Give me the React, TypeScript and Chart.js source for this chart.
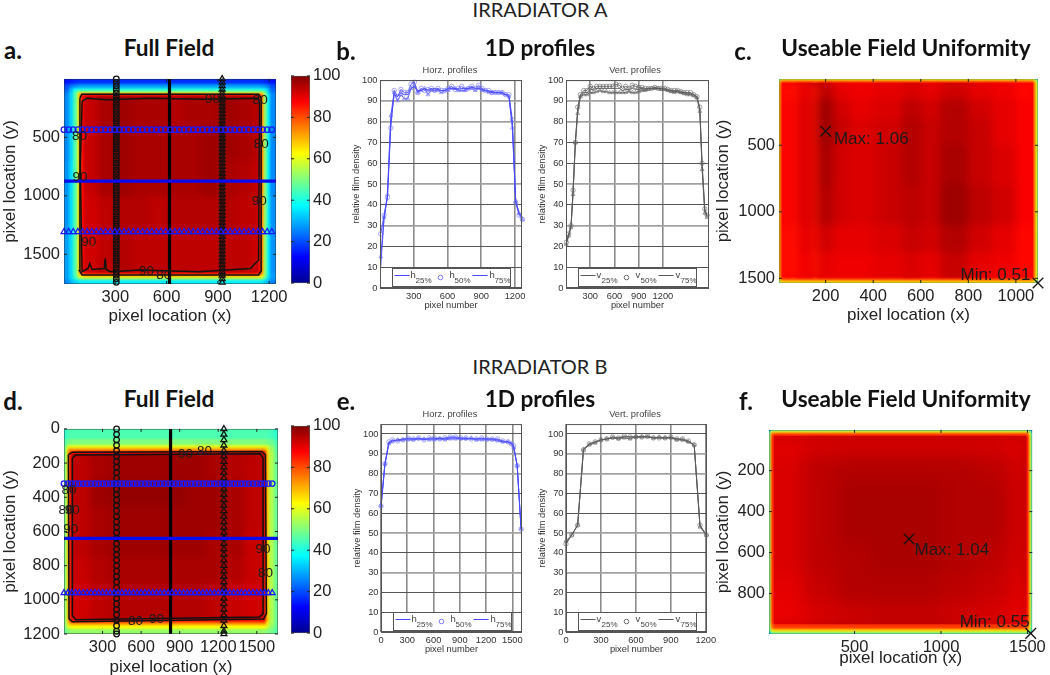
import React, { useEffect, useRef } from "react";
import { Chart, registerables } from "chart.js";
Chart.register(...registerables);

const SANS = '"Liberation Sans", Arial, sans-serif';
const CAL = 'Lato, "Open Sans", sans-serif';

/* ---------- panel a: full field, irradiator A ---------- */
const aXEdges = [0,30,55,75,88,100,115,200,300,400,500,600,700,800,900,1000,1100,1140,1155,1168,1185,1205,1240];
const aYEdges = [0,40,80,105,120,133,150,400,700,1000,1300,1660,1680,1700,1720,1754];
const aField = [
  [14,15,16,17,17,17,17,17,17,17,17,17,17,17,17,17,17,17,17,16,15,14],
  [20,24,26,27,28,28,28,28,28,28,28,28,28,28,28,28,28,28,27,26,24,20],
  [22,30,38,40,40,40,40,40,40,40,40,40,40,40,40,40,40,40,40,38,30,22],
  [24,32,44,54,55,55,55,55,55,55,55,55,55,55,55,55,55,55,54,46,33,24],
  [25,33,45,60,68,68,68,68,68,68,68,68,68,68,68,68,68,68,62,48,35,25],
  [26,33,45,60,75,84,88,88,88,88,88,88,88,88,88,88,88,84,67,50,36,26],
  [26,33,45,60,75,88,93,96,97,96,96,95,96,96,97,96,94,85,68,50,36,26],
  [26,33,45,60,75,88,93,96,97,96,96,96,96,97,97,96,94,85,68,50,36,26],
  [27,34,45,60,75,88,93,96,97,96,96,96,96,97,96,95,93,85,68,50,36,26],
  [27,34,45,60,75,88,92,94,95,95,94,95,95,95,95,94,93,85,68,50,36,27],
  [28,34,45,60,75,87,92,94,95,94,94,94,94,94,94,94,92,85,68,50,36,27],
  [28,34,45,60,72,80,85,85,85,85,85,85,85,85,85,85,85,80,66,50,36,28],
  [28,34,44,54,60,64,66,66,66,66,66,66,66,66,66,66,66,64,60,48,35,28],
  [28,33,40,46,48,50,50,50,50,50,50,50,50,50,50,50,50,50,46,42,33,27],
  [26,30,33,35,36,36,36,36,36,36,36,36,36,36,36,36,36,36,35,32,30,25],
];
const aContour80 = [[93,165],[104,132],[1138,132],[1153,165],[1153,1640],[1138,1677],[106,1677],[90,1640],[93,165]];
const aContour90 = [[106,193],[135,165],[251,179],[501,165],[829,174],[1138,165],[1143,207],[1138,1551],[1118,1579],[1089,1621],[790,1649],[598,1641],[443,1635],[270,1649],[247,1630],[241,1537],[235,1621],[164,1630],[150,1579],[141,1621],[106,1649],[102,1355],[96,739],[106,193]];
const aLabels: [number, number, string][] = [[868,171,"90"],[1147,179,"80"],[91,487,"80"],[1153,557,"80"],[93,838,"90"],[1142,1047,"90"],[145,1397,"90"],[482,1641,"90"],[584,1683,"80"]];
const aMarkX = [0,27,54,81,108,135,162,189,216,243,270,297,324,351,378,405,432,459,486,513,540,567,594,621,648,675,702,729,756,783,810,837,864,891,918,945,972,999,1026,1053,1080,1107,1134,1161,1188,1215];
const aMarkY = [0,30,60,90,120,150,180,210,240,270,300,330,360,390,420,450,480,510,540,570,600,630,660,690,720,750,780,810,840,870,900,930,960,990,1020,1050,1080,1110,1140,1170,1200,1230,1260,1290,1320,1350,1380,1410,1440,1470,1500,1530,1560,1590,1620,1650,1680,1710,1740];

/* ---------- panel d: full field, irradiator B ---------- */
const dXEdges = [0,15,30,45,60,200,350,500,650,800,950,1100,1250,1400,1560,1575,1595,1630,1665];
const dYEdges = [0,60,95,112,128,145,300,450,600,750,900,1115,1130,1148,1170,1200];
const dField = [
  [42,44,45,45,45,45,45,45,45,45,45,45,45,45,45,45,44,42],
  [45,48,49,50,50,50,50,50,50,50,50,50,50,50,50,49,48,45],
  [47,55,60,60,60,60,60,60,60,60,60,60,60,60,60,58,52,46],
  [48,60,72,72,72,72,72,72,72,72,72,72,72,72,72,65,54,47],
  [48,60,78,84,88,88,88,88,88,88,88,88,88,88,84,68,55,47],
  [48,60,80,90,94,96,97,97,97,97,97,96,95,94,88,68,55,48],
  [48,60,80,90,94,97,98,98,98,98,97,97,96,94,88,68,55,48],
  [48,60,80,90,94,96,97,97,97,97,97,97,96,94,88,68,55,48],
  [48,60,80,90,94,96,97,97,97,97,97,96,96,93,88,68,55,48],
  [48,60,80,90,93,95,96,96,96,96,96,96,95,93,88,68,55,48],
  [49,60,80,90,92,94,95,95,95,95,95,94,93,92,88,68,55,48],
  [49,60,78,84,88,88,88,88,88,88,88,88,88,88,84,68,55,48],
  [49,60,70,72,74,74,74,74,74,74,74,74,74,74,72,65,54,48],
  [48,56,60,61,62,62,62,62,62,62,62,62,62,62,61,58,52,47],
  [47,50,51,52,52,52,52,52,52,52,52,52,52,52,52,50,49,46],
];
const dContour80 = [[34,151],[65,136],[1541,132],[1567,151],[1575,1081],[1554,1112],[65,1129],[39,1110],[34,151]];
const dContour90 = [[65,171],[91,153],[1528,146],[1549,171],[1549,1081],[1523,1100],[91,1116],[65,1091],[65,171]];
const dLabels: [number, number, string][] = [[945,146,"90"],[1093,132,"80"],[39,357,"80"],[15,477,"80"],[65,477,"90"],[52,589,"90"],[1549,707,"90"],[1567,847,"80"],[557,1123,"80"],[720,1116,"90"]];
const dMarkX = [0,30,60,90,120,150,180,210,240,270,300,330,360,390,420,450,480,510,540,570,600,630,660,690,720,750,780,810,840,870,900,930,960,990,1020,1050,1080,1110,1140,1170,1200,1230,1260,1290,1320,1350,1380,1410,1440,1470,1500,1530,1560,1590,1620];
const dMarkY = [0,32,64,96,128,160,192,224,256,288,320,352,384,416,448,480,512,544,576,608,640,672,704,736,768,800,832,864,896,928,960,992,1024,1056,1088,1120,1152,1184,1200];

/* ---------- panels c, f: useable field uniformity ---------- */
const cXEdges = [0,5,10,16,60,75,100,150,165,180,230,300,400,450,520,600,680,800,900,1000,1072,1080,1087,1093];
const cYEdges = [0,6,15,30,150,300,500,800,1100,1300,1495,1515,1527,1535];
const cField = [
  [30,40,55,58,58,58,58,58,58,58,58,58,58,58,58,58,58,58,58,58,55,45,32],
  [40,60,68,70,70,70,70,70,70,70,70,70,70,70,70,70,70,70,70,70,68,58,40],
  [50,65,80,82,82,83,83,82,83,84,83,83,83,83,83,83,83,83,83,82,78,62,45],
  [55,68,82,87,85,89,90,84,93,94,90,89,90,90,91,90,92,90,89,87,80,65,50],
  [55,68,82,88,86,90,91,85,96,97,92,90,91,91,94,92,95,92,90,88,80,65,50],
  [55,68,82,88,86,90,91,85,96,97,93,91,92,92,95,93,95,93,90,88,80,65,50],
  [55,68,82,88,86,90,91,85,95,96,92,91,92,93,95,93,96,93,91,88,80,65,50],
  [55,68,82,88,86,90,91,85,95,95,92,91,92,93,94,93,97,94,92,88,80,65,50],
  [55,68,82,87,85,89,90,85,92,92,90,90,91,91,93,92,95,92,90,87,80,65,50],
  [55,68,82,87,85,88,89,84,90,90,89,89,90,90,91,90,93,90,89,87,80,65,50],
  [52,66,78,82,82,83,83,82,83,83,83,83,83,83,84,83,84,83,83,82,78,63,48],
  [45,60,68,70,70,70,70,70,70,70,70,70,70,70,70,70,70,70,70,70,68,58,42],
  [32,45,58,60,60,60,60,60,60,60,60,60,60,60,60,60,60,60,60,60,55,45,30],
];
const fXEdges = [0,8,18,32,200,400,600,800,1000,1200,1400,1495,1508,1520,1528];
const fYEdges = [0,6,15,30,120,250,400,550,700,850,950,975,987,998];
const fField = [
  [20,30,42,45,45,45,45,45,45,45,45,42,30,18],
  [35,55,65,66,66,66,66,66,66,66,66,65,55,32],
  [45,65,80,82,82,82,82,82,82,82,82,80,62,38],
  [45,65,83,90,91,91,91,91,91,91,90,85,65,40],
  [45,65,83,91,94,95,95,95,95,94,91,85,65,40],
  [45,65,83,91,94,96,96,96,95,95,91,85,65,40],
  [45,65,83,91,94,96,96,96,95,95,91,85,65,40],
  [45,65,83,91,94,95,96,96,95,94,91,85,65,40],
  [45,65,83,90,93,95,95,95,94,93,90,85,65,40],
  [45,65,83,89,91,92,93,93,92,91,89,85,65,40],
  [45,62,78,82,82,82,82,82,82,82,82,78,60,38],
  [38,55,65,66,66,66,66,66,66,66,66,65,55,34],
  [25,38,45,48,48,48,48,48,48,48,48,45,38,22],
];

/* ---------- panel b: profiles, irradiator A ---------- */
const bHx = [6,36,66,96,126,156,186,216,246,276,306,336,366,396,426,456,486,516,546,576,606,636,666,696,726,756,786,816,846,876,906,936,966,996,1026,1056,1086,1116,1146,1176,1206,1236,1266];
const bH25 = [10,33,44,80,93,92,94,93,93,96,97,95,95,96,95,95.5,96,95.5,95,95,96,96,96,95.5,96,96,96,96.5,96,96,95.5,95,94.5,94.5,94,94,93.5,93,92,79,42,36,34];
const bH50 = [26,35,43.5,77,95,92,95.5,94,94,98,99,94,96,95,95.5,96,95,96,95,95,96,97,95.5,96,97,95.5,96,97,96,97.5,96,95,95,94,94,94,94,93,93,81,41,35,33];
const bH75 = [15,34,45,83,94,90,93,91,91,96,97,94,95,96,93,95,95,95,94,95,95,96,96,95,95,95,96,96,95,96,95,95,94,94,94,94,94,93,92,77,42,36,33];
const bVx = [4,33,62,87,116,145,178,220,260,300,340,380,420,460,500,540,580,620,660,700,740,780,820,860,900,940,980,1020,1060,1100,1140,1180,1220,1260,1300,1340,1380,1420,1460,1500,1540,1580,1620,1656,1685,1718,1747];
const bV25 = [21.5,25.5,29.5,46,70,85,92.5,94,94,95.5,95.5,96,96,96,96,96,96,96,96,95,95.5,95.5,96,95.5,95.5,96,95.5,96,96,96,96,95.8,95.5,95,95,94.5,94.5,94,94,93.5,93.5,93,92,86,58,37,34.5];
const bV50 = [22,26,30,47,70,87,93,95,95,97,96,97,97,97,97,97,97,98,97.5,96,97,96,97.5,97,96.5,96.5,96,96,96,96.5,96,96,96,95.5,95,95,95,94.5,94,94,94,93,92,87,60,38,35];
const bV75 = [21,25,29,45,70,84,92,93,93,94,94,94.5,95,94.5,94.5,94,94,94,94,94,94,94.5,94,94,94.5,95,95,95.5,96,96,96,95.5,95.5,95,94.5,94,94.5,94,93.5,93,93,92.5,91.5,85,57,36,34];

/* ---------- panel e: profiles, irradiator B ---------- */
const eHx = [0,45,90,130,190,250,310,370,430,490,550,610,670,730,790,850,910,970,1030,1090,1150,1210,1270,1330,1390,1450,1490,1515,1555,1600];
const eH25 = [63,84.5,95.5,96.5,97,97.5,97.5,97.5,97.5,97.5,97.5,97.5,98,97.5,98,98,97.5,97.5,97.5,97.5,97.5,97.5,97.5,97,96,96,95.5,93.5,84,51.5];
const eH50 = [63.5,85,96,97,96.5,97,98,97.5,98,97,98,98,97.5,98,98.5,98.5,98,98,97.5,97.5,98,97.5,97.5,97.5,96.5,96,95,94,84,52];
const eH75 = [64,85,95,96,97,97,97,97,97.5,97.5,97,97,97.5,97,97.5,97.5,97.5,97.5,98,97,97,97,97,96.5,96,96,95,93,84,52];
const eVx = [0,50,100,150,200,250,300,350,400,450,500,550,600,650,700,750,800,850,900,950,1000,1050,1100,1150,1205];
const eV25 = [45,49,54,92.5,95,96,97,97.5,98,98,98.5,98.5,98.5,98.5,98.5,98,98,98,98,97.5,97,96,94.5,53.5,49];
const eV50 = [44.5,49,54,92,95,96,97,97.5,98.5,98,99,98.5,98.5,98.5,99,98,98,98,98.5,97.5,97.5,96.5,94.5,54,49];
const eV75 = [46,49,54,92,94.5,95.5,97,97.5,98,97.5,98,97.5,98.5,98.5,98.5,98,98.5,98,98,97,97,96,94.5,53,49];

const yPctTicks = [0,10,20,30,40,50,60,70,80,90,100];
const colorTicks = [0,20,40,60,80,100];
const jetStops: [number, number[]][] = [[0,[0,0,143]],[12.5,[0,0,255]],[37.5,[0,255,255]],[62.5,[255,255,0]],[87.5,[255,0,0]],[100,[128,0,0]]];

function jet(v: number) {
  for (let i = 1; i < jetStops.length; i++) {
    const [a, ca] = jetStops[i - 1];
    const [b, cb] = jetStops[i];
    if (v <= b) {
      const t = (v - a) / (b - a);
      const c = ca.map((q, k) => Math.round(q + (cb[k] - q) * t));
      return `rgb(${c[0]},${c[1]},${c[2]})`;
    }
  }
  return "rgb(128,0,0)";
}

function cells(xe: number[], ye: number[], m: number[][]) {
  const out: any[] = [];
  m.forEach((row, j) => row.forEach((v, i) => out.push({
    x: (xe[i] + xe[i + 1]) / 2, y: (ye[j] + ye[j + 1]) / 2, v, x0: xe[i], x1: xe[i + 1], y0: ye[j], y1: ye[j + 1],
  })));
  return out;
}

const heatPlugin = (inner: number[], innerBlur: number) => ({
  id: "heat",
  beforeDatasetsDraw(chart: any) {
    const ds = chart.data.datasets.find((d: any) => d.label === "field");
    if (!ds) return;
    const { x, y } = chart.scales;
    const a = chart.chartArea;
    const off = document.createElement("canvas");
    off.width = chart.width; off.height = chart.height;
    const o = off.getContext("2d")!;
    for (const c of ds.data) {
      const l = Math.round(x.getPixelForValue(c.x0)), r = Math.round(x.getPixelForValue(c.x1));
      const t = Math.round(y.getPixelForValue(c.y0)), b = Math.round(y.getPixelForValue(c.y1));
      o.fillStyle = jet(c.v);
      o.fillRect(l, t, r - l, b - t);
    }
    const ctx = chart.ctx;
    ctx.save();
    ctx.beginPath(); ctx.rect(a.left, a.top, a.width, a.height); ctx.clip();
    ctx.drawImage(off, 0, 0);
    ctx.filter = "blur(1.2px)";
    ctx.drawImage(off, 0, 0);
    ctx.restore();
    // soften the interior only: its own edge pixels are stretched outward so the ring colours do not bleed in
    const il = Math.round(x.getPixelForValue(inner[0])), ir = Math.round(x.getPixelForValue(inner[2]));
    const it = Math.round(y.getPixelForValue(inner[1])), ib = Math.round(y.getPixelForValue(inner[3]));
    const iw = ir - il, ih = ib - it, pad = innerBlur * 4;
    const off2 = document.createElement("canvas");
    off2.width = chart.width; off2.height = chart.height;
    const o2 = off2.getContext("2d")!;
    o2.drawImage(off, il, it, iw, ih, il - pad, it - pad, iw + pad * 2, ih + pad * 2);
    o2.drawImage(off, il, it, iw, ih, il, it, iw, ih);
    ctx.save();
    ctx.beginPath(); ctx.rect(il, it, iw, ih); ctx.clip();
    ctx.filter = `blur(${innerBlur}px)`;
    ctx.drawImage(off2, 0, 0);
    ctx.restore();
  },
});

const framePlugin = (color: string, tick: number) => ({
  id: "frame",
  afterDatasetsDraw(chart: any) {
    const { ctx, chartArea: a, scales } = chart;
    ctx.save();
    ctx.strokeStyle = color; ctx.lineWidth = 1;
    ctx.strokeRect(a.left + .5, a.top + .5, a.width - 1, a.height - 1);
    ctx.strokeStyle = "#222";
    if (tick > 0) {
      ctx.beginPath();
      if (scales.x && scales.x.options.display) for (const t of scales.x.ticks) {
        const p = scales.x.getPixelForValue(t.value);
        ctx.moveTo(p, a.top); ctx.lineTo(p, a.top + tick);
        ctx.moveTo(p, a.bottom); ctx.lineTo(p, a.bottom - tick);
      }
      for (const t of scales.y.ticks) {
        const p = scales.y.getPixelForValue(t.value);
        ctx.moveTo(a.left, p); ctx.lineTo(a.left + tick, p);
        ctx.moveTo(a.right, p); ctx.lineTo(a.right - tick, p);
      }
      ctx.stroke();
    }
    ctx.restore();
  },
});

const notesPlugin = (items: [number, number, string][], font: string, align: CanvasTextAlign) => ({
  id: "notes",
  afterDatasetsDraw(chart: any) {
    const { ctx, scales } = chart;
    ctx.save();
    ctx.font = font; ctx.fillStyle = "#1a1a1a"; ctx.textAlign = align; ctx.textBaseline = "middle";
    for (const [x, y, t] of items) ctx.fillText(t, scales.x.getPixelForValue(x), scales.y.getPixelForValue(y));
    ctx.restore();
  },
});

const legendPlugin = (letter: string, color: string, markColor: string) => ({
  id: "profileLegend",
  afterDatasetsDraw(chart: any) {
    const { ctx, chartArea: a } = chart;
    const bx = Math.round(a.left + 12) + .5, bw = 118, bh = 18, by = Math.round(a.bottom - bh - 2) + .5;
    ctx.save();
    ctx.fillStyle = "#fff"; ctx.strokeStyle = "#555"; ctx.lineWidth = 1;
    ctx.fillRect(bx, by, bw, bh); ctx.strokeRect(bx, by, bw, bh);
    const cy = by + 9;
    const text = (x: number, sub: string) => {
      ctx.fillStyle = "#444"; ctx.textBaseline = "middle"; ctx.textAlign = "left";
      ctx.font = `9.5px ${SANS}`; ctx.fillText(letter, x, cy - 2);
      ctx.font = `8px ${SANS}`; ctx.fillText(sub, x + 5, cy + 3);
    };
    ctx.strokeStyle = color; ctx.beginPath();
    ctx.moveTo(bx + 2, cy - 2); ctx.lineTo(bx + 17, cy - 2);
    ctx.moveTo(bx + 80, cy - 2); ctx.lineTo(bx + 95, cy - 2); ctx.stroke();
    ctx.strokeStyle = markColor; ctx.beginPath(); ctx.arc(bx + 48, cy, 2.3, 0, Math.PI * 2); ctx.stroke();
    text(bx + 18, "25%"); text(bx + 57, "50%"); text(bx + 97, "75%");
    ctx.restore();
  },
});

type Box = { l: number; t: number; r: number; b: number };
type Mar = { l: number; t: number; r: number; b: number };

function linAxis(min: number, max: number, ticks: number[], extra: any, fit: any) {
  return {
    type: "linear", min, max,
    afterBuildTicks: (s: any) => { s.ticks = ticks.map((value) => ({ value })); },
    afterFit: fit,
    border: { display: false },
    ...extra,
  };
}

function ChartBox({ box, mar, config }: { box: Box; mar: Mar; config: any }) {
  const ref = useRef<HTMLCanvasElement>(null);
  useEffect(() => {
    const c = new Chart(ref.current!, config);
    return () => c.destroy();
  }, []);
  return (
    <canvas ref={ref} width={box.r - box.l + mar.l + mar.r} height={box.b - box.t + mar.t + mar.b}
      style={{ position: "absolute", left: box.l - mar.l, top: box.t - mar.t }} />
  );
}

const baseOpts = (mar: Mar) => ({
  responsive: false, animation: false, events: [] as string[],
  layout: { autoPadding: false, padding: { left: 0, top: mar.t, right: mar.r, bottom: 0 } },
  plugins: { legend: { display: false }, tooltip: { enabled: false }, title: { display: false } },
});

const bigTick = { font: { family: SANS, size: 16.5 }, color: "#222", autoSkip: false, maxRotation: 0, callback: (v: any) => String(v) };
const noGrid = { display: true, drawOnChartArea: false, drawTicks: false };
const bigTitle = (text: string) => ({ display: true, text, font: { family: SANS, size: 17 }, color: "#222", padding: 0 });

function lineDs(points: number[][], color: string, width: number, label: string) {
  return { label, type: "scatter", showLine: true, data: points.map(([x, y]) => ({ x, y })), borderColor: color, borderWidth: width, pointRadius: 0, clip: false, tension: 0 };
}
function markDs(points: { x: number; y: number }[], color: string, style: string, r: number, label: string) {
  return { label, type: "scatter", data: points, pointStyle: style, pointRadius: r, borderColor: color, backgroundColor: "rgba(0,0,0,0)", pointBorderWidth: 1.3, showLine: false, clip: false };
}

function fullField(opts: {
  box: Box; mar: Mar; xMax: number; yMax: number; xTicks: number[]; yTicks: number[];
  xe: number[]; ye: number[]; m: number[][]; c80: number[][]; c90: number[][]; labels: [number, number, string][];
  mx: number[]; my: number[]; rows: number[]; cols: number[]; inner: number[];
}) {
  const { mar, xMax, yMax, xTicks, yTicks, xe, ye, m, c80, c90, labels, mx, my, rows, cols, inner } = opts;
  return {
    type: "scatter",
    data: {
      datasets: [
        markDs(mx.map((x) => ({ x, y: rows[0] })), "#1a1aff", "circle", 2.8, "h25"),
        lineDs([[0, rows[1]], [xMax, rows[1]]], "#0a0aee", 3.2, "h50"),
        markDs(mx.map((x) => ({ x, y: rows[2] })), "#1a1aff", "triangle", 3.4, "h75"),
        markDs(my.map((y) => ({ x: cols[0], y })), "#111", "circle", 2.8, "v25"),
        lineDs([[cols[1], 0], [cols[1], yMax]], "#000", 3.2, "v50"),
        markDs(my.map((y) => ({ x: cols[2], y })), "#111", "triangle", 3.4, "v75"),
        lineDs(c90, "#111", 1.5, "contour 90"),
        lineDs(c80, "#111", 1.5, "contour 80"),
        { label: "field", data: cells(xe, ye, m), pointRadius: 0 },
      ],
    },
    options: {
      ...baseOpts(mar),
      scales: {
        x: linAxis(0, xMax, xTicks, { grid: noGrid, ticks: { ...bigTick, padding: 4 }, title: bigTitle("pixel location (x)") }, (s: any) => { s.height = mar.b; }),
        y: linAxis(0, yMax, yTicks, { reverse: true, grid: noGrid, ticks: { ...bigTick, padding: 4 }, title: bigTitle("pixel location (y)") }, (s: any) => { s.width = mar.l; }),
      },
    },
    plugins: [heatPlugin(inner, 3), notesPlugin(labels, `13.5px ${SANS}`, "center"), framePlugin("rgba(40,40,40,.45)", 3)],
  };
}

function colorBar(box: Box, mar: Mar) {
  return {
    type: "bar",
    data: {
      labels: ["scale"],
      datasets: [{
        label: "colorbar", data: [[0, 100]], barPercentage: 1, categoryPercentage: 1,
        backgroundColor: (ctx: any) => {
          const a = ctx.chart.chartArea;
          if (!a) return "#000";
          const g = ctx.chart.ctx.createLinearGradient(0, a.bottom, 0, a.top);
          jetStops.forEach(([v]) => g.addColorStop(v / 100, jet(v)));
          return g;
        },
      }],
    },
    options: {
      ...baseOpts(mar),
      layout: { autoPadding: false, padding: { left: 0, top: mar.t, right: 0, bottom: mar.b } },
      scales: {
        x: { display: false, grid: { display: false } },
        y: linAxis(0, 100, colorTicks, { position: "right", grid: { display: false, drawTicks: false }, ticks: { ...bigTick, padding: 3 } }, (s: any) => { s.width = mar.r; }),
      },
    },
    plugins: [framePlugin("rgba(90,90,90,.6)", 3)],
  };
}

function uniformity(box: Box, mar: Mar, xMax: number, yMax: number, xMin: number, yMin: number, xTicks: number[], yTicks: number[],
  xe: number[], ye: number[], m: number[][], marks: { x: number; y: number }[], notes: [number, number, string][], inner: number[], blur: number) {
  return {
    type: "scatter",
    data: {
      datasets: [
        markDs(marks, "#111", "crossRot", 7.5, "max / min"),
        { label: "field", data: cells(xe, ye, m), pointRadius: 0 },
      ],
    },
    options: {
      ...baseOpts(mar),
      scales: {
        x: linAxis(xMin, xMax, xTicks, { grid: noGrid, ticks: { ...bigTick, padding: 4 }, title: bigTitle("pixel location (x)") }, (s: any) => { s.height = mar.b; }),
        y: linAxis(yMin, yMax, yTicks, { reverse: true, grid: noGrid, ticks: { ...bigTick, padding: 4 }, title: bigTitle("pixel location (y)") }, (s: any) => { s.width = mar.l; }),
      },
    },
    plugins: [heatPlugin(inner, blur), notesPlugin(notes, `17px ${SANS}`, "left"), framePlugin("rgba(40,40,40,.25)", 3)],
  };
}

const smallTick = { font: { family: SANS, size: 9.3 }, color: "#333", autoSkip: false, maxRotation: 0, padding: 2.5, callback: (v: any) => String(v) };
const thickRows = [90, 80, 50, 30];

function profile(box: Box, mar: Mar, xMax: number, yMax: number, xTicks: number[], xs: number[], s25: number[], s50: number[], s75: number[],
  letter: string, color: string, markColor: string) {
  const pts = (ys: number[]) => xs.map((x, i) => ({ x, y: ys[i] }));
  const series = (label: string, ys: number[], style: any, r: number) => ({
    label, type: "scatter", showLine: true, data: pts(ys), borderColor: color, borderWidth: .9, tension: 0,
    pointStyle: style, pointRadius: r, pointBorderColor: markColor, pointBackgroundColor: "rgba(0,0,0,0)", pointBorderWidth: .65, clip: false,
  });
  return {
    type: "scatter",
    data: { datasets: [series(letter + "25%", s25, "circle", 0), series(letter + "50%", s50, "circle", 2.2), series(letter + "75%", s75, "triangle", 2.2)] },
    options: {
      ...baseOpts(mar),
      scales: {
        x: linAxis(0, xMax, xTicks, {
          grid: { color: "#8c8c8c", lineWidth: 1.6, drawTicks: false },
          ticks: smallTick,
          title: { display: true, text: "pixel number", font: { family: SANS, size: 9.3 }, color: "#333", padding: 0 },
        }, (s: any) => { s.height = mar.b; }),
        y: linAxis(0, yMax, yPctTicks, {
          grid: {
            drawTicks: false,
            color: (c: any) => (thickRows.includes(c.tick?.value) ? "#a2a2a2" : "#555"),
            lineWidth: (c: any) => (thickRows.includes(c.tick?.value) ? 1.8 : 1),
          },
          ticks: smallTick,
          title: { display: true, text: "relative film density", font: { family: SANS, size: 9.3 }, color: "#333", padding: 0 },
        }, (s: any) => { s.width = mar.l; }),
      },
    },
    plugins: [framePlugin("#555", 0), legendPlugin(letter, color, markColor)],
  };
}

const BLUE = "#4848ff", BLUEM = "#7a7aff", GREY = "#5a5a5a", GREYM = "#6e6e6e";

const boxA = { l: 64, t: 75, r: 278, b: 284 };
const boxD = { l: 64, t: 425, r: 278, b: 634 };
const marA = { l: 64, t: 10, r: 14, b: 43 };
const marD = { l: 64, t: 10, r: 14, b: 44 };
const cbA = { l: 291, t: 75, r: 310, b: 284 };
const cbD = { l: 291, t: 425, r: 310, b: 634 };
const cbM = { l: 0, t: 12, r: 36, b: 12 };
const boxC = { l: 779, t: 75, r: 1038, b: 283 };
const marC = { l: 66, t: 10, r: 12, b: 43 };
const boxF = { l: 769, t: 426, r: 1038, b: 634 };
const marF = { l: 56, t: 10, r: 12, b: 35 };
const pm = { l: 29, t: 8, r: 14, b: 23 };
const boxBH = { l: 380, t: 80, r: 522, b: 288 };
const boxBV = { l: 566, t: 80, r: 709, b: 288 };
const boxEH = { l: 381, t: 424, r: 522, b: 632 };
const boxEV = { l: 566, t: 424, r: 707, b: 632 };
const pmE = { l: 29, t: 8, r: 14, b: 23 };

const configs: { box: Box; mar: Mar; config: any }[] = [
  { box: boxA, mar: marA, config: fullField({ box: boxA, mar: marA, xMax: 1240, yMax: 1754, xTicks: [300,600,900,1200], yTicks: [500,1000,1500], xe: aXEdges, ye: aYEdges, m: aField, c80: aContour80, c90: aContour90, labels: aLabels, mx: aMarkX, my: aMarkY, rows: [434,874,1308], cols: [306,617,925], inner: [120,155,1135,1655] }) },
  { box: cbA, mar: cbM, config: colorBar(cbA, cbM) },
  { box: boxBH, mar: pm, config: profile(boxBH, pm, 1262, 100, [300,600,900,1200], bHx, bH25, bH50, bH75, "h", BLUE, BLUEM) },
  { box: boxBV, mar: pm, config: profile(boxBV, pm, 1770, 100, [300,600,900,1200], bVx, bV25, bV50, bV75, "v", GREY, GREYM) },
  { box: boxC, mar: marC, config: uniformity(boxC, marC, 1093, 1535, 4, 1, [200,400,600,800,1000], [500,1000,1500], cXEdges, cYEdges, cField, [{ x: 200, y: 394 }, { x: 1093, y: 1535 }], [[235,458,"Max: 1.06"],[767,1480,"Min: 0.51"]], [18,32,1070,1493], 4) },
  { box: boxD, mar: marD, config: fullField({ box: boxD, mar: marD, xMax: 1665, yMax: 1200, xTicks: [300,600,900,1200,1500], yTicks: [0,200,400,600,800,1000,1200], xe: dXEdges, ye: dYEdges, m: dField, c80: dContour80, c90: dContour90, labels: dLabels, mx: dMarkX, my: dMarkY, rows: [320,640,960], cols: [409,829,1244], inner: [62,147,1558,1113] }) },
  { box: cbD, mar: cbM, config: colorBar(cbD, cbM) },
  { box: boxEH, mar: pmE, config: profile(boxEH, pmE, 1610, 105, [0,300,600,900,1200,1500], eHx, eH25, eH50, eH75, "h", BLUE, BLUEM) },
  { box: boxEV, mar: pmE, config: profile(boxEV, pmE, 1210, 105, [0,300,600,900,1200], eVx, eV25, eV50, eV75, "v", GREY, GREYM) },
  { box: boxF, mar: marF, config: uniformity(boxF, marF, 1528, 998, 5, 1, [500,1000,1500], [200,400,600,800], fXEdges, fYEdges, fField, [{ x: 815, y: 534 }, { x: 1519, y: 995 }], [[847,590,"Max: 1.04"],[1108,942,"Min: 0.55"]], [34,32,1493,948], 9) },
];

const texts: { t: string; x: number; y: number; s: number; w?: number; f?: string; c?: string }[] = [
  { t: "IRRADIATOR A", x: 540, y: 9, s: 20, w: 400, c: "#222" },
  { t: "IRRADIATOR B", x: 540, y: 366, s: 20, w: 400, c: "#222" },
  { t: "a.", x: 13, y: 49, s: 24, w: 700 }, { t: "b.", x: 346, y: 50, s: 24, w: 700 }, { t: "c.", x: 743, y: 50, s: 24, w: 700 },
  { t: "d.", x: 13, y: 400, s: 24, w: 700 }, { t: "e.", x: 346, y: 400, s: 24, w: 700 }, { t: "f.", x: 746, y: 400, s: 24, w: 700 },
  { t: "Full Field", x: 169, y: 47, s: 22.6, w: 700 }, { t: "1D profiles", x: 540, y: 47, s: 22.6, w: 700 }, { t: "Useable Field Uniformity", x: 906, y: 47, s: 22.6, w: 700 },
  { t: "Full Field", x: 169, y: 398, s: 22.6, w: 700 }, { t: "1D profiles", x: 540, y: 398, s: 22.6, w: 700 }, { t: "Useable Field Uniformity", x: 906, y: 398, s: 22.6, w: 700 },
  { t: "Horz. profiles", x: 450, y: 70, s: 9.3, f: SANS, c: "#444" }, { t: "Vert. profiles", x: 635, y: 70, s: 9.3, f: SANS, c: "#444" },
  { t: "Horz. profiles", x: 450, y: 414, s: 9.3, f: SANS, c: "#444" }, { t: "Vert. profiles", x: 635, y: 414, s: 9.3, f: SANS, c: "#444" },
];

export default function App() {
  return (
    <div style={{ position: "absolute", left: 0, top: 0, width: 1050, height: 675, overflow: "hidden", background: "#fff" }}>
      {configs.map((c, i) => <ChartBox key={i} {...c} />)}
      {texts.map((t, i) => (
        <div key={i} style={{
          position: "absolute", left: t.x, top: t.y, transform: "translate(-50%,-50%)", whiteSpace: "nowrap",
          fontFamily: t.f || CAL, fontSize: t.s, fontWeight: t.w || 400, color: t.c || "#111",
        }}>{t.t}</div>
      ))}
    </div>
  );
}
